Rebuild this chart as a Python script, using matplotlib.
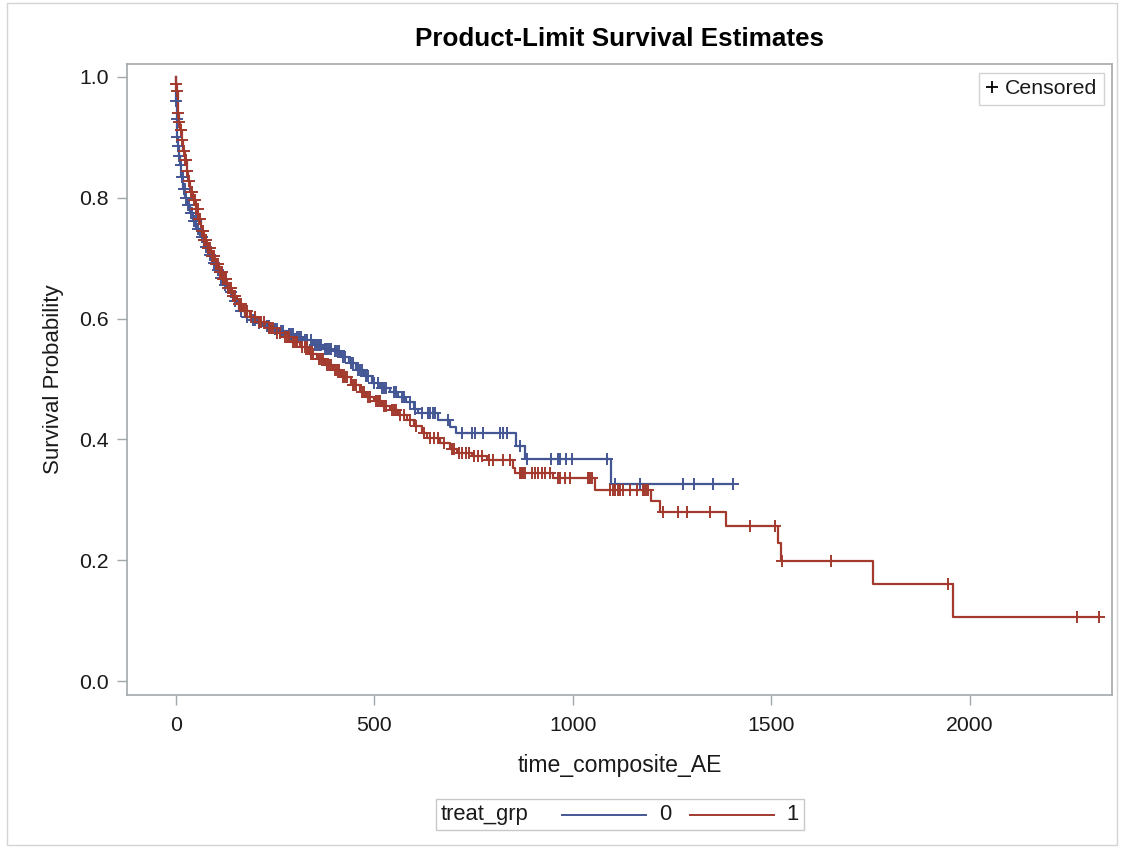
import numpy as np
import matplotlib
matplotlib.use("Agg")
import matplotlib.pyplot as plt
from matplotlib.lines import Line2D
from matplotlib.patches import Rectangle
from matplotlib.offsetbox import TextArea, DrawingArea, HPacker, AnchoredOffsetbox

plt.rcParams['font.family'] = ['Liberation Sans', 'DejaVu Sans']

# ---------------- data ----------------
groups = ["0", "1"]

# group 0 (blue): event times and survival after each event
g0_times = [0, 1, 2, 3, 5, 8, 11, 14, 18, 23, 29, 35, 43, 52, 60, 70, 80, 90,
            100, 110, 120, 132, 145, 160, 175, 190, 205, 220, 240, 260, 280,
            300, 320, 345, 370, 395, 415, 435, 455, 475, 495, 515, 540, 560,
            580, 600, 610, 660, 690, 705, 856, 879, 1097]
g0_surv = [1.0, 0.96, 0.93, 0.90, 0.885, 0.87, 0.855, 0.835, 0.815, 0.80,
           0.788, 0.775, 0.762, 0.748, 0.735, 0.718, 0.705, 0.692, 0.680,
           0.668, 0.656, 0.644, 0.630, 0.612, 0.603, 0.597, 0.592, 0.588,
           0.583, 0.579, 0.575, 0.570, 0.565, 0.556, 0.550, 0.546, 0.537,
           0.527, 0.515, 0.505, 0.494, 0.486, 0.478, 0.470, 0.462, 0.450,
           0.443, 0.432, 0.420, 0.410, 0.389, 0.367, 0.327]
g0_last = 1404
g0_censor = [1.5, 2.5, 4, 6, 9, 12, 15, 17, 20, 22, 26, 30, 33, 38, 41, 46, 50,
             55, 65, 75, 85, 95, 105, 115, 125, 140, 150, 165, 180, 195, 200,
             210, 230, 235, 250, 255, 265, 270, 285, 290, 295, 305, 310, 315,
             325, 330, 340, 350, 355, 360, 365, 375, 380, 385, 390, 400, 405,
             410, 420, 425, 440, 445, 460, 465, 470, 480, 485, 500, 510, 520,
             525, 530, 550, 555, 570, 575, 590, 602, 620, 635, 640, 648, 652,
             685, 720, 745, 753, 774, 816, 824, 833, 866, 884, 946, 963, 967,
             984, 997, 1085, 1106, 1169, 1278, 1305, 1353, 1404]

# group 1 (red)
g1_times = [0, 1, 2, 5, 8, 11, 15, 19, 23, 27, 31, 36, 42, 50, 56, 63, 70, 78,
            88, 98, 108, 118, 130, 142, 155, 170, 186, 205, 228, 250, 270,
            290, 312, 335, 355, 375, 396, 415, 440, 463, 480, 500, 520, 540,
            560, 581, 600, 620, 632, 665, 690, 707, 745, 783, 849, 855, 950,
            1055, 1196, 1220, 1385, 1516, 1525, 1756, 1957]
g1_surv = [1.0, 0.989, 0.977, 0.94, 0.925, 0.912, 0.895, 0.878, 0.862, 0.845,
           0.828, 0.81, 0.797, 0.782, 0.765, 0.745, 0.73, 0.717, 0.703, 0.69,
           0.678, 0.665, 0.65, 0.637, 0.625, 0.613, 0.603, 0.594, 0.585,
           0.577, 0.570, 0.562, 0.553, 0.542, 0.533, 0.524, 0.515, 0.503,
           0.490, 0.479, 0.470, 0.463, 0.456, 0.449, 0.440, 0.432, 0.422,
           0.410, 0.402, 0.394, 0.385, 0.378, 0.372, 0.366, 0.352, 0.345,
           0.336, 0.316, 0.298, 0.280, 0.257, 0.228, 0.199, 0.160, 0.106]
g1_last = 2326
g1_censor = [1.5, 2.5, 6, 9, 12, 13, 16, 20, 24, 25, 28, 33, 38, 40, 45, 48, 52,
             55, 58, 60, 62, 65, 67, 69, 72, 74, 76, 80, 83, 85, 90, 93, 96,
             100, 103, 106, 110, 113, 116, 120, 124, 127, 132, 136, 140, 145,
             150, 158, 165, 175, 180, 190, 200, 210, 215, 222, 235, 240, 245,
             255, 262, 275, 280, 285, 295, 300, 305, 318, 325, 330, 340, 345,
             360, 365, 370, 380, 385, 390, 400, 405, 410, 420, 425, 430, 445,
             450, 455, 470, 475, 485, 490, 505, 510, 515, 525, 530, 545, 550,
             555, 565, 575, 590, 605, 625, 640, 650, 660, 675, 695, 700, 712,
             720, 730, 738, 750, 760, 770, 790, 800, 824, 841, 866, 869, 872,
             875, 879, 897, 904, 912, 922, 929, 942, 962, 967, 980, 992, 1038,
             1040, 1043, 1048, 1093, 1100, 1106, 1113, 1120, 1126, 1144, 1161,
             1176, 1180, 1185, 1189, 1227, 1265, 1287, 1345, 1447, 1509, 1527,
             1651, 1944, 2269, 2326]

x_ticks = [0, 500, 1000, 1500, 2000]
y_ticks = [0.0, 0.2, 0.4, 0.6, 0.8, 1.0]

# ---------------- styling ----------------
colors = {"0": "#445694", "1": "#A23A2E"}
axis_col = "#a3a8ab"
text_col = "#1a1a1a"
PX = 72.0 / 100.0  # points per pixel

fig = plt.figure(figsize=(11.22, 8.48), dpi=100)
fig.patch.set_facecolor("white")
ax = fig.add_axes([127 / 1122, 1 - 695 / 848, (1112 - 127) / 1122, (695 - 64) / 848])

series = {
    "0": (g0_times, g0_surv, g0_last, g0_censor),
    "1": (g1_times, g1_surv, g1_last, g1_censor),
}
for g in groups:
    t, s, last, cens = series[g]
    tt = np.array(list(t) + [last], dtype=float)
    ss = np.array(list(s) + [s[-1]], dtype=float)
    ax.step(tt, ss, where="post", color=colors[g], lw=1.6, zorder=3)
    c = np.array(cens, dtype=float)
    idx = np.searchsorted(np.array(t, dtype=float), c, side="right") - 1
    cy = np.array(s)[idx]
    ax.plot(c, cy, linestyle="none", marker="+", ms=9, mew=1.4,
            color=colors[g], zorder=4)

ax.set_xlim(-123, 2358)
ax.set_ylim(-0.023, 1.0215)
ax.set_xticks(x_ticks)
ax.set_xticklabels([str(v) for v in x_ticks])
ax.set_yticks(y_ticks)
ax.set_yticklabels([f"{v:.1f}" for v in y_ticks])
for sp in ax.spines.values():
    sp.set_color(axis_col)
    sp.set_linewidth(1.2)
ax.tick_params(axis="both", colors=axis_col, labelcolor=text_col,
               labelsize=15.3, length=7, width=1.0, direction="out")
ax.tick_params(axis="x", pad=8)
ax.tick_params(axis="y", pad=6)

ax.set_xlabel("time_composite_AE", fontsize=16.6, color=text_col, labelpad=14)
ax.set_ylabel("Survival Probability", fontsize=16, color=text_col, labelpad=11)
fig.text(619.5 / 1122, 1 - 39 / 848, "Product-Limit Survival Estimates",
         ha="center", va="center", fontsize=18.7, fontweight="bold", color="#000000")

# censored legend
cens_handle = Line2D([], [], linestyle="none", marker="+", ms=9, mew=1.3, color="black")
leg = ax.legend([cens_handle], ["Censored"], loc="upper right",
                bbox_to_anchor=(1 - 8 / 985, 1 - 9 / 631), borderaxespad=0,
                fontsize=15.3, frameon=True, fancybox=False, handlelength=0.6,
                handletextpad=0.35, borderpad=0.3, edgecolor="#c8c8c8")
leg.get_frame().set_linewidth(1.0)
for txt in leg.get_texts():
    txt.set_color(text_col)

# group legend at bottom
def line_box(col, w_px):
    w = w_px * PX
    da = DrawingArea(w, 10, 0, 0)
    da.add_artist(Line2D([0, w], [5, 5], color=col, lw=1.4))
    return da

def gap(w_px):
    return DrawingArea(w_px * PX, 1, 0, 0)

fs_leg = 15.8
items = [TextArea("treat_grp", textprops=dict(fontsize=fs_leg, color=text_col)),
         gap(33),
         line_box(colors["0"], 84),
         gap(13),
         TextArea("0", textprops=dict(fontsize=fs_leg, color=text_col)),
         gap(19),
         line_box(colors["1"], 84),
         gap(13),
         TextArea("1", textprops=dict(fontsize=fs_leg, color=text_col))]
hp = HPacker(children=items, align="center", pad=0, sep=0)
abox = AnchoredOffsetbox(loc="center", child=hp, pad=0.38, borderpad=0, frameon=True,
                         bbox_to_anchor=(620 / 1122, 1 - 814.5 / 848),
                         bbox_transform=fig.transFigure)
abox.patch.set_edgecolor("#c8c8c8")
abox.patch.set_linewidth(1.0)
abox.patch.set_boxstyle("square", pad=0)
fig.add_artist(abox)

# outer border of graph
fig.add_artist(Rectangle((7 / 1122, 3 / 848), (1117 - 7) / 1122, (845 - 3) / 848,
                         transform=fig.transFigure, fill=False,
                         edgecolor="#d4d4d4", lw=1.0))

fig.savefig("out.png", dpi=100, facecolor="white")
